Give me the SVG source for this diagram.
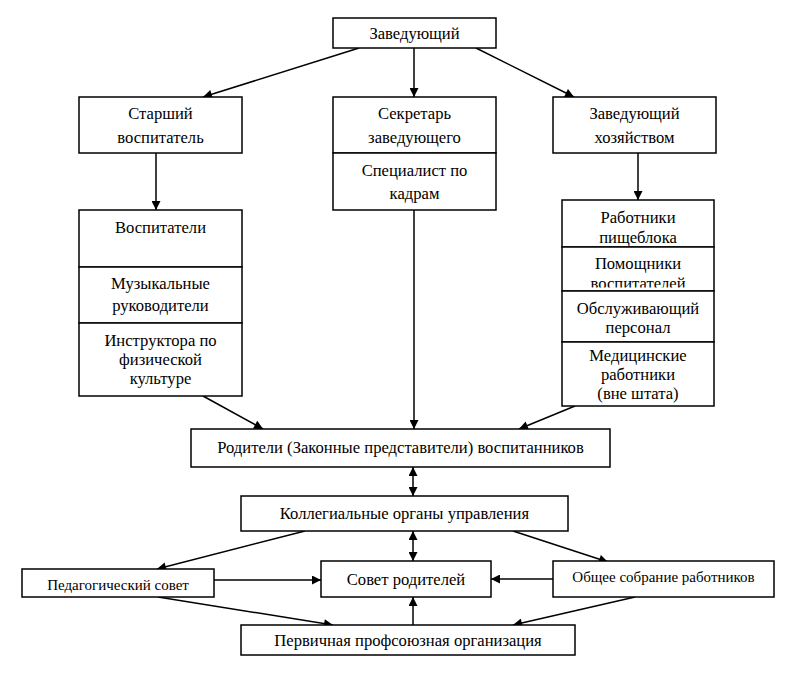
<svg xmlns="http://www.w3.org/2000/svg" width="800" height="677" viewBox="0 0 800 677">
<defs>
<marker id="arr" viewBox="0 0 10 10" refX="10" refY="5" markerWidth="10" markerHeight="9" markerUnits="userSpaceOnUse" orient="auto-start-reverse">
<path d="M0,0 L10,5 L0,10 z" fill="#000"/>
</marker>
<clipPath id="clipPom"><rect x="560" y="246" width="160" height="41.5"/></clipPath>
<style>
.b{fill:#fff;stroke:#000;stroke-width:1.5}
.t{font-family:"Liberation Serif","Times New Roman",serif;font-size:16.6px;fill:#000;text-anchor:middle}
.s{font-size:15px}
.c{fill:none;stroke:#000;stroke-width:1.5;marker-end:url(#arr)}
.d{marker-start:url(#arr)}
</style>
</defs>
<rect width="800" height="677" fill="#fff"/>
<g id="connectors">
<line class="c" x1="359" y1="48" x2="203" y2="97"/>
<line class="c" x1="414" y1="48" x2="414" y2="97"/>
<line class="c" x1="476" y1="48" x2="574" y2="97"/>
<line class="c" x1="156" y1="153" x2="156" y2="210"/>
<line class="c" x1="638" y1="153" x2="638" y2="200"/>
<line class="c" x1="203" y1="396" x2="263" y2="429"/>
<line class="c" x1="414" y1="210" x2="414" y2="429"/>
<line class="c" x1="575" y1="406" x2="519" y2="429"/>
<line class="c d" x1="413" y1="467" x2="413" y2="496"/>
<line class="c d" x1="413" y1="531" x2="413" y2="561"/>
<line class="c" x1="305" y1="531" x2="157" y2="569"/>
<line class="c" x1="513" y1="531" x2="608" y2="562"/>
<line class="c" x1="214" y1="580" x2="321" y2="580"/>
<line class="c" x1="553" y1="579" x2="491" y2="579"/>
<line class="c" x1="158" y1="597" x2="333" y2="625"/>
<line class="c" x1="635" y1="597" x2="513" y2="625"/>
<line class="c" x1="413" y1="625" x2="413" y2="597"/>
</g>
<g id="zaveduyushchiy">
<rect class="b" x="333" y="18" width="163" height="30"/>
<text class="t" x="414.5" y="38.5">Заведующий</text>
</g>
<g id="starshiy">
<rect class="b" x="79" y="97" width="163" height="56"/>
<text class="t" x="160.5" y="118.5">Старший</text>
<text class="t" x="160.5" y="142.5">воспитатель</text>
</g>
<g id="sekretar">
<rect class="b" x="333" y="97" width="163" height="56"/>
<text class="t" x="414.5" y="118.5">Секретарь</text>
<text class="t" x="414.5" y="142.5">заведующего</text>
</g>
<g id="specialist">
<rect class="b" x="333" y="153" width="163" height="57"/>
<text class="t" x="414.5" y="175.5">Специалист по</text>
<text class="t" x="414.5" y="198.5">кадрам</text>
</g>
<g id="zavhoz">
<rect class="b" x="553" y="97" width="163" height="56"/>
<text class="t" x="634.5" y="118.5">Заведующий</text>
<text class="t" x="634.5" y="142.5">хозяйством</text>
</g>
<g id="vospitateli">
<rect class="b" x="79" y="210" width="163" height="57"/>
<text class="t" x="160.5" y="232.5">Воспитатели</text>
</g>
<g id="muzyka">
<rect class="b" x="79" y="267" width="163" height="56"/>
<text class="t" x="160.5" y="288.5">Музыкальные</text>
<text class="t" x="160.5" y="310.5">руководители</text>
</g>
<g id="instruktor">
<rect class="b" x="79" y="323" width="163" height="73"/>
<text class="t" x="160.5" y="345.5">Инструктора по</text>
<text class="t" x="160.5" y="364.5">физической</text>
<text class="t" x="160.5" y="383.5">культуре</text>
</g>
<g id="pishcheblok">
<rect class="b" x="562" y="200" width="152" height="47"/>
<text class="t" x="638" y="222.5">Работники</text>
<text class="t" x="638" y="242.5">пищеблока</text>
</g>
<g id="pomoshchniki">
<rect class="b" x="562" y="247" width="152" height="44"/>
<text class="t" x="638" y="268.5">Помощники</text>
<text class="t" x="638" y="289" clip-path="url(#clipPom)">воспитателей</text>
</g>
<g id="obsluzh">
<rect class="b" x="562" y="291" width="152" height="51"/>
<text class="t" x="638" y="313.5">Обслуживающий</text>
<text class="t" x="638" y="332.5">персонал</text>
</g>
<g id="medic">
<rect class="b" x="562" y="342" width="152" height="64"/>
<text class="t" x="638" y="361">Медицинские</text>
<text class="t" x="638" y="380">работники</text>
<text class="t" x="638" y="399">(вне штата)</text>
</g>
<g id="roditeli">
<rect class="b" x="191" y="429" width="419" height="38"/>
<text class="t" x="400.5" y="452.5">Родители (Законные представители) воспитанников</text>
</g>
<g id="kollegialnye">
<rect class="b" x="241" y="496" width="327" height="35"/>
<text class="t" x="404.5" y="518.5">Коллегиальные органы управления</text>
</g>
<g id="sovet-roditeley">
<rect class="b" x="321" y="561" width="170" height="36"/>
<text class="t" x="406" y="584.5">Совет родителей</text>
</g>
<g id="pedsovet">
<rect class="b" x="22" y="569" width="192" height="28"/>
<text class="t s" x="118" y="590">Педагогический совет</text>
</g>
<g id="obshchee">
<rect class="b" x="553" y="561" width="221" height="36"/>
<text class="t s" x="663.5" y="582">Общее собрание работников</text>
</g>
<g id="profsoyuz">
<rect class="b" x="241" y="625" width="334" height="30"/>
<text class="t" x="408" y="646">Первичная профсоюзная организация</text>
</g>
</svg>
